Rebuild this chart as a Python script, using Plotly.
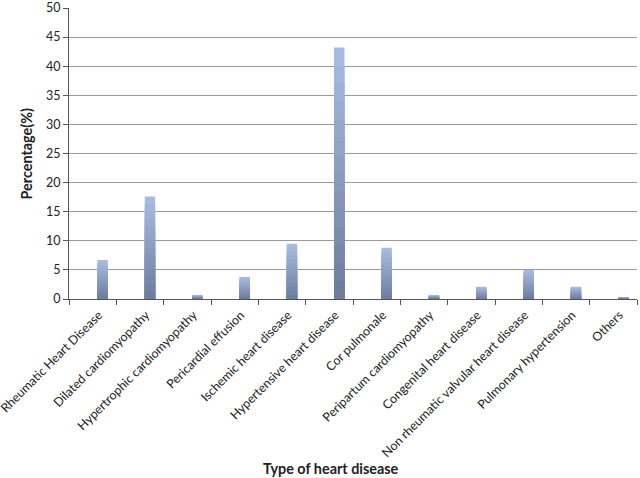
import plotly.graph_objects as go

categories = ["Rheumatic Heart Disease", "Dilated cardiomyopathy", "Hypertrophic cardiomyopathy",
              "Pericardial effusion", "Ischemic heart disease", "Hypertensive heart disease",
              "Cor pulmonale", "Peripartum cardiomyopathy", "Congenital heart disease",
              "Non rheumatic valvular heart disease", "Pulmonary hypertension", "Others"]
percentages = [6.7, 17.6, 0.7, 3.8, 9.5, 43.2, 8.8, 0.7, 2.1, 5.0, 2.1, 0.3]
y_ticks = [0, 5, 10, 15, 20, 25, 30, 35, 40, 45, 50]

FONT = "Lato, 'Open Sans', sans-serif"

# vertical gradient for each bar: light at top, darker toward the base
top_rgb = (166, 187, 224)
bot_rgb = (110, 126, 160)
n_layers = 14
fig = go.Figure()
for i in range(n_layers):
    f = 1 - i / n_layers
    t = i / (n_layers - 1)
    c = tuple(int(round(top_rgb[k] + (bot_rgb[k] - top_rgb[k]) * t)) for k in range(3))
    fig.add_trace(go.Bar(
        x=categories, y=[v * f for v in percentages],
        width=0.22, offset=0.1,
        marker=dict(color="rgb(%d,%d,%d)" % c, line=dict(width=0)),
        hoverinfo="skip" if i else None,
    ))

fig.update_layout(
    width=640, height=478,
    margin=dict(l=69, r=3, t=8, b=179),
    plot_bgcolor="white", paper_bgcolor="white",
    showlegend=False, barmode="overlay",
    font=dict(family=FONT, size=12, color="#222"),
    annotations=[
        dict(text="<b>Percentage(%)</b>", xref="paper", yref="paper", x=-0.074, y=0.5,
             textangle=-90, showarrow=False, font=dict(size=14.4, family=FONT, color="#222"),
             xanchor="center", yanchor="middle"),
        dict(text="<b>Type of heart disease</b>", xref="paper", yref="paper", x=0.461, y=-0.581,
             showarrow=False, font=dict(size=14.4, family=FONT, color="#222"),
             xanchor="center", yanchor="middle"),
    ],
)
fig.update_yaxes(
    range=[0, 50], tickvals=y_ticks, showgrid=True, gridcolor="#9a9a9a", gridwidth=1,
    showline=True, linecolor="#555", linewidth=1, ticks="outside", ticklen=5, tickcolor="#555",
    zeroline=False, tickfont=dict(size=12.5, family=FONT), automargin=False,
)
fig.update_xaxes(
    type="category", tickangle=-45, tickson="boundaries", ticks="outside", ticklen=5,
    tickcolor="#555", showline=True, linecolor="#555", linewidth=1,
    tickfont=dict(size=12.4, family=FONT), range=[-0.5, 11.5], automargin=False,
    ticklabelshift=6, ticklabelstandoff=3,
)

fig.write_html("out.html", config={"displayModeBar": False},
               post_script="document.body.style.margin='0';document.body.style.overflow='hidden';")
